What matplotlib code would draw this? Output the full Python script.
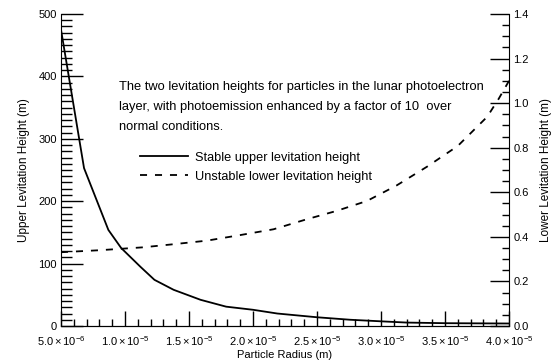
import numpy as np
import matplotlib
matplotlib.use("Agg")
import matplotlib.pyplot as plt
from matplotlib.ticker import MultipleLocator, FuncFormatter

plt.rcParams["font.family"] = ["Liberation Sans", "DejaVu Sans"]
plt.rcParams["mathtext.fontset"] = "custom"
plt.rcParams["mathtext.rm"] = "Liberation Sans"
plt.rcParams["mathtext.it"] = "Liberation Sans:italic"

# ---------- data ----------
radius_upper = np.array([5.0, 6.8, 8.7, 9.7, 11.2, 12.3, 13.8, 15.9, 17.9, 20.0,
                         21.9, 25.0, 27.6, 30.0, 32.0, 35.0, 40.0]) * 1e-6
upper_height = [475, 253, 154, 125, 95, 74, 58, 42, 31, 26,
                20, 14, 10, 7.5, 5.5, 4.5, 4]

radius_lower = np.array([5.0, 8.0, 11.4, 13.8, 16.4, 19.0, 21.6, 24.2, 26.5, 28.9,
                         31.2, 33.6, 36.0, 38.3, 39.2, 40.0]) * 1e-6
lower_height = [0.331, 0.340, 0.353, 0.367, 0.383, 0.408, 0.434, 0.479, 0.516, 0.561,
                0.630, 0.715, 0.808, 0.939, 1.02, 1.10]

x_ticks = np.arange(5e-6, 4.01e-5, 5e-6)
note = ("The two levitation heights for particles in the lunar photoelectron\n"
        "layer, with photoemission enhanced by a factor of 10  over\n"
        "normal conditions.")


def sci_label(v, pos):
    m, e = f"{v:.1e}".split("e")
    return r"$%s\times10^{%d}$" % (m, int(e))


fig = plt.figure(figsize=(5.52, 3.62), dpi=100)
ax = fig.add_axes([61/552, 36/362, 448/552, 312/362])
ax2 = ax.twinx()

l1, = ax.plot(radius_upper, upper_height, color="black", lw=1.3)
l2, = ax2.plot(radius_lower, lower_height, color="black", lw=1.3, ls=(0, (3.9, 4.4)))

ax.set_xlim(5e-6, 4e-5)
ax.set_ylim(0, 500)
ax2.set_ylim(0, 1.4)

ax.set_xticks(x_ticks)
ax.xaxis.set_major_formatter(FuncFormatter(sci_label))
ax.xaxis.set_minor_locator(MultipleLocator(1e-6))
ax.yaxis.set_major_locator(MultipleLocator(100))
ax.yaxis.set_minor_locator(MultipleLocator(10))
ax2.yaxis.set_major_locator(MultipleLocator(0.2))
ax2.yaxis.set_minor_locator(MultipleLocator(0.05))
ax2.yaxis.set_major_formatter(FuncFormatter(lambda v, p: f"{v:.1f}"))

ax.tick_params(axis="y", which="major", direction="in", length=16, width=1, labelsize=8, pad=3)
ax.tick_params(axis="y", which="minor", direction="in", length=8, width=1)
ax.tick_params(axis="x", which="major", direction="in", length=11, width=1, labelsize=8, pad=6)
ax.tick_params(axis="x", which="minor", direction="in", length=5, width=1)
ax2.tick_params(axis="y", which="major", direction="in", length=14, width=1, labelsize=8, pad=3)
ax2.tick_params(axis="y", which="minor", direction="in", length=5, width=1)

for a in (ax, ax2):
    a.spines["top"].set_visible(False)
ax2.spines["left"].set_visible(False)
ax.spines["right"].set_visible(False)

ax.set_xlabel("Particle Radius (m)", fontsize=8, labelpad=1)
ax.set_ylabel("Upper Levitation Height (m)", fontsize=8.5, labelpad=6)
ax2.set_ylabel("Lower Levitation Height (m)", fontsize=8.5, labelpad=8)

fig.text(119/552, 0.775, note, ha="left", va="top", fontsize=9.3, linespacing=1.85)

leg = ax.legend([l1, l2], ["Stable upper levitation height", "Unstable lower levitation height"],
                loc="upper left", bbox_to_anchor=(140/552, 0.581), bbox_transform=fig.transFigure,
                frameon=False, fontsize=9.2, handlelength=3.75, handletextpad=0.55,
                labelspacing=0.56, borderpad=0, borderaxespad=0)

fig.canvas.draw()
for t in ax2.yaxis.get_major_ticks():
    t.tick2line.set_linestyle((0, (4, 3)))

fig.savefig("out.png", dpi=100)
